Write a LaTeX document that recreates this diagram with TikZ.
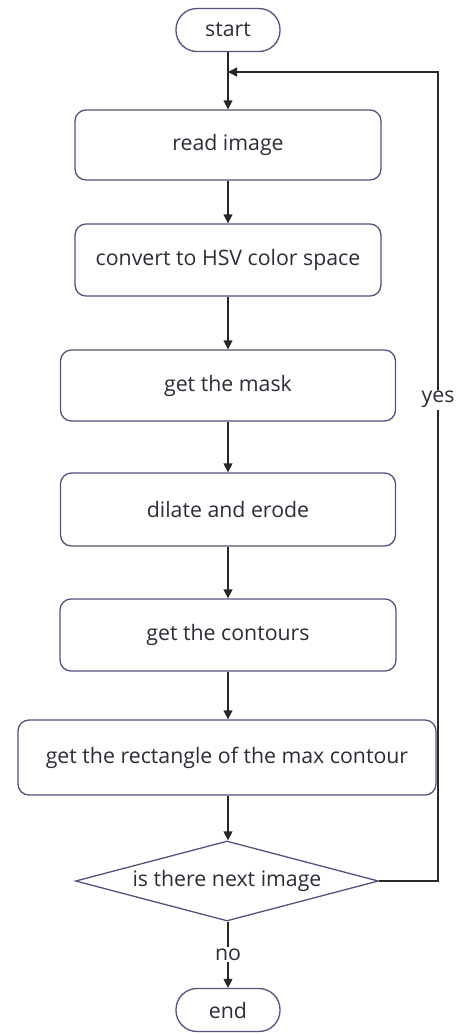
\documentclass[tikz,border=0pt]{standalone}
\usepackage{fontspec}
\setmainfont{Open Sans}
\usetikzlibrary{shapes.geometric,arrows.meta}
\definecolor{boxc}{RGB}{80,84,125}
\definecolor{linec}{RGB}{40,40,40}
\definecolor{txtc}{RGB}{45,45,55}
\begin{document}
\begin{tikzpicture}[x=1pt,y=-1pt,
  font=\fontsize{21.3}{25}\selectfont, text=txtc,
  box/.style={draw=boxc, line width=1.3pt, rounded corners=11pt, inner sep=0pt, fill=white},
  term/.style={draw=boxc, line width=1.3pt, rounded corners=21pt, inner sep=0pt, minimum width=104pt, minimum height=43pt},
  dec/.style={draw=boxc, line width=1.3pt, diamond, inner sep=0pt, minimum width=303pt, minimum height=80pt, aspect=3.79},
  arr/.style={draw=linec, line width=1.4pt, -{Triangle[length=9pt,width=9pt]}},
  lbl/.style={fill=white, inner sep=1.5pt}]
\useasboundingbox (0,0) rectangle (456,1034);
\node[term] (start) at (228,30) {start};
\node[box, minimum width=306pt, minimum height=70pt] (read) at (228,145) {read image};
\node[box, minimum width=306pt, minimum height=72pt] (hsv) at (228,260) {convert to HSV color space};
\node[box, minimum width=335pt, minimum height=71pt] (mask) at (228,385.5) {get the mask};
\node[box, minimum width=335pt, minimum height=73pt] (dil) at (228,509.5) {dilate and erode};
\node[box, minimum width=336pt, minimum height=72pt] (cont) at (228,635) {get the contours};
\node[box, minimum width=418pt, minimum height=75pt] (rect) at (227,757.5) {get the rectangle of the max contour};
\node[dec] (dia) at (227,881) {is there next image};
\node[term] (end) at (228,1010) {end};
\coordinate (j) at (228,72);
\coordinate (r1) at (438,881);
\coordinate (r2) at (438,72);
\draw[arr] (start.south) -- (read.north);
\draw[arr] (read.south) -- (hsv.north);
\draw[arr] (hsv.south) -- (mask.north);
\draw[arr] (mask.south) -- (dil.north);
\draw[arr] (dil.south) -- (cont.north);
\draw[arr] (cont.south) -- (rect.north -| cont.south);
\draw[arr] (rect.south -| cont.south) -- (dia.north -| cont.south);
\draw[arr] (dia.south -| cont.south) -- node[lbl, pos=0.5] (no) {no} (end.north);
\draw[arr] (dia.east) -- (r1) -- node[lbl, pos=0.595] (yes) {yes} (r2) -- (j);
\end{tikzpicture}
\end{document}
